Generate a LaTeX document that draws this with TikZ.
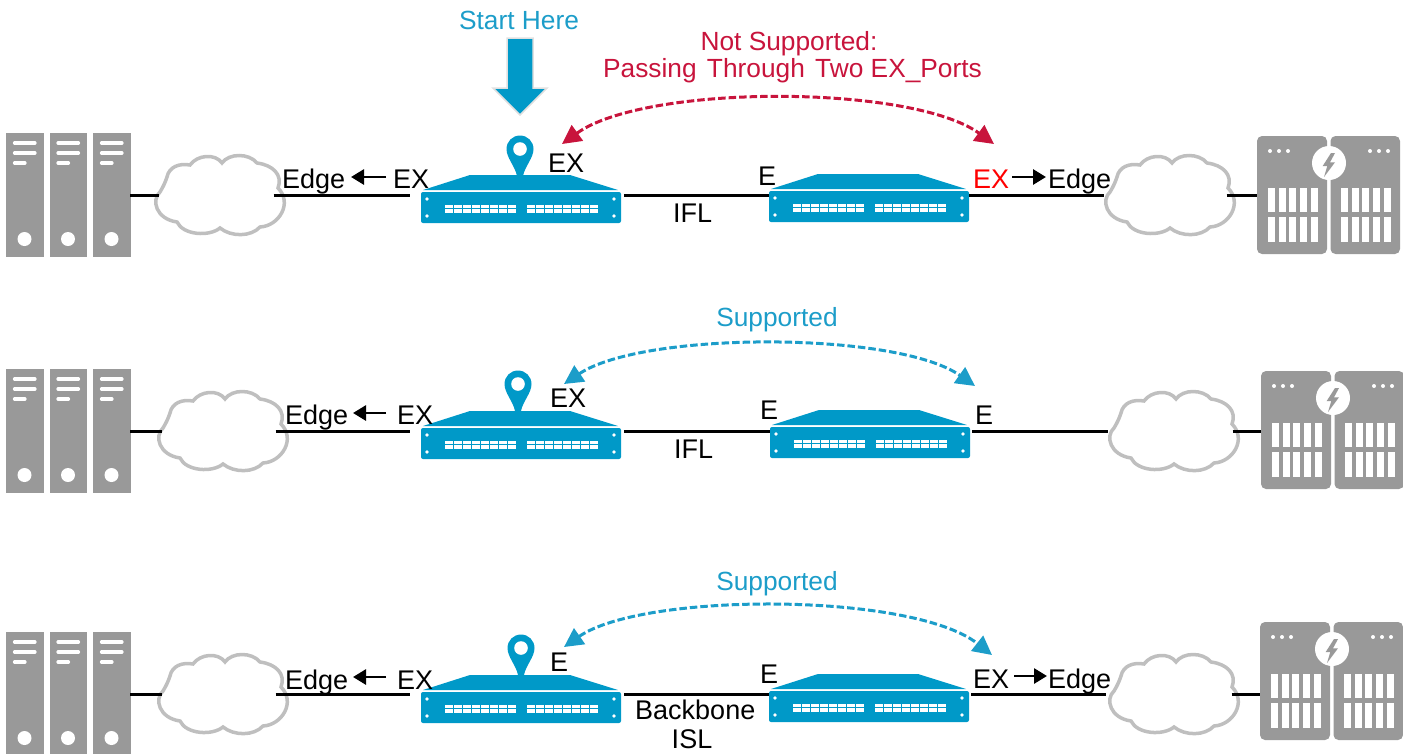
\documentclass[tikz,border=0pt]{standalone}
\usepackage{fontspec}
\setmainfont{Liberation Sans}
\usetikzlibrary{arrows.meta}
\definecolor{swblue}{HTML}{0099C8}
\definecolor{okblue}{HTML}{1C9DC9}
\definecolor{badred}{HTML}{C8143C}
\definecolor{devgray}{HTML}{999999}
\definecolor{cloudgray}{HTML}{BFBFBF}
\tikzset{
  anchorbox/.style={inner sep=0pt,outer sep=0pt,draw=none},
  lbl/.style={inner sep=0pt,anchor=base west,font=\fontsize{27}{30}\selectfont,text=black},
  lblc/.style={inner sep=0pt,anchor=base,font=\fontsize{26.3}{30}\selectfont},
  wire/.style={line width=3pt,black},
  portarrow/.style={line width=2.8pt,black,-{Triangle[length=13pt,width=15pt]}},
  spanbad/.style={line width=3pt,badred,dash pattern=on 7.5pt off 3pt,{Triangle[length=19pt,width=19pt]}-{Triangle[length=19pt,width=19pt]}},
  spanok/.style={line width=3pt,okblue,dash pattern=on 7.5pt off 3pt,{Triangle[length=19pt,width=19pt]}-{Triangle[length=19pt,width=19pt]}},
}
% name, center x, center y
\newcommand\CloudAt[3]{%
  \draw[cloudgray,line width=3.5pt,fill=white,shift={(#2,#3)}]
    (-61,-3) .. controls (-70,5) and (-65,24) .. (-44,27)
    .. controls (-38,40) and (-12,42) .. (-1,33)
    .. controls (10,42) and (30,42) .. (39,32)
    .. controls (58,31) and (72,8) .. (57,-7)
    .. controls (62,-20) and (52,-30) .. (36,-32)
    .. controls (28,-42) and (8,-42) .. (1,-32)
    .. controls (-6,-42) and (-24,-40) .. (-31,-30)
    .. controls (-42,-32) and (-52,-28) .. (-54,-18)
    .. controls (-56,-12) and (-58,-8) .. (-61,-3) -- cycle;
  \node[anchorbox,minimum width=129pt,minimum height=82pt] (#1) at (#2,#3) {};
}
% name, top y (left rack of three)
\newcommand\RackAt[2]{%
  \begin{scope}[shift={(0,#2)}]
    \foreach \xa/\xb in {6/43.5,49.5/87,93/130.5}{
      \fill[devgray] (\xa,0) rectangle (\xb,124);
      \draw[white,line width=3.2pt,line cap=round] (\xa+8.5,10) -- (\xa+29,10) (\xa+8.5,20) -- (\xa+29,20) (\xa+8.5,30) -- (\xa+19,30);
      \fill[white] (\xa+18.5,106) circle[radius=7pt];
    }
  \end{scope}
  \node[anchorbox,minimum width=124pt,minimum height=124pt] (#1) at (68,#2+62) {};
}
% name, left x, top y (right pair of chassis)
\newcommand\ChassisAt[3]{%
  \begin{scope}[shift={(#2,#3)}]
    \fill[devgray,rounded corners=5pt] (0,0) rectangle (70,118);
    \fill[devgray,rounded corners=5pt] (73.5,0) rectangle (143,118);
    \foreach \dx in {13,22,31,113,122,131}{\fill[white] (\dx,15) circle[radius=2pt];}
    \foreach \i in {0,...,4}{
      \fill[white] (10.7+10.8*\i,52) rectangle (17.7+10.8*\i,76);
      \fill[white] (10.7+10.8*\i,81) rectangle (17.7+10.8*\i,106);
      \fill[white] (83.7+10.8*\i,52) rectangle (90.7+10.8*\i,76);
      \fill[white] (83.7+10.8*\i,81) rectangle (90.7+10.8*\i,106);
    }
    \fill[white] (72,27) circle[radius=17pt];
    \fill[devgray] (74,17) -- (65.7,30) -- (70.3,30) -- (67,41) -- (78,26.3) -- (73,26.3) -- (78,17) -- cycle;
  \end{scope}
  \node[anchorbox,minimum width=143pt,minimum height=118pt] (#1) at (#2+71.5,#3+59) {};
}
% name, left x, body top y
\newcommand\SwitchAt[3]{%
  \begin{scope}[shift={(#2,#3)}]
    \fill[swblue] (2,-2) -- (49,-17) -- (149,-17) -- (197,-2) -- cycle;
    \fill[swblue,rounded corners=2pt] (0,0) rectangle (200,31);
    \foreach \dx in {6,193}{\foreach \dy in {7,24}{\fill[white] (\dx,\dy) circle[radius=1.8pt];}}
    \foreach \i in {0,...,7}{
      \fill[white] (24+9*\i,12.5) rectangle (31.6+9*\i,16.2);
      \fill[white] (24+9*\i,17.3) rectangle (31.6+9*\i,21);
      \fill[white] (106+9*\i,12.5) rectangle (113.6+9*\i,16.2);
      \fill[white] (106+9*\i,17.3) rectangle (113.6+9*\i,21);
    }
  \end{scope}
  \node[anchorbox,minimum width=200pt,minimum height=31pt] (#1) at (#2+100,#3+15.5) {};
}
% center x, center y of head
\newcommand\PinAt[2]{%
  \begin{scope}[shift={(#1,#2)}]
    \fill[swblue] (-3,27) .. controls (-5,17) and (-13.5,9) .. (-13.5,0)
      .. controls (-13.5,-7.5) and (-7.5,-13.5) .. (0,-13.5)
      .. controls (7.5,-13.5) and (13.5,-7.5) .. (13.5,0)
      .. controls (13.5,9) and (5,17) .. (3,27) -- cycle;
    \fill[white] (0,0) circle[radius=6.8pt];
  \end{scope}
}
\begin{document}
\begin{tikzpicture}[x=1pt,y=-1pt]
\useasboundingbox (0,0) rectangle (1403,753);
\clip (0,0) rectangle (1403,753);
% devices
\RackAt{ra}{133}\RackAt{rb}{369}\RackAt{rc}{632}
\ChassisAt{ca}{1257}{136}\ChassisAt{cb}{1261}{371}\ChassisAt{cc}{1260}{622}
\CloudAt{la}{221}{195}\CloudAt{lb}{224}{431}\CloudAt{lc}{224}{694}
\CloudAt{na}{1171}{195}\CloudAt{nb}{1175}{431}\CloudAt{nc}{1175}{694}
\SwitchAt{sa}{421}{192}\SwitchAt{sb}{421}{428}\SwitchAt{sc}{421}{692}
\SwitchAt{ta}{769}{191}\SwitchAt{tb}{770}{427}\SwitchAt{tc}{769}{691}
\PinAt{520}{149}\PinAt{518}{384}\PinAt{521}{648}
% connectors, row 1
\draw[wire,shorten >=-2pt] (ra.east) -- (la.west);
\draw[wire,shorten <=-12pt,shorten >=11pt] (la.east) -- (la.east -| sa.west);
\draw[wire,shorten <=3pt] (la.east -| sa.east) -- (la.east -| ta.west);
\draw[wire,shorten >=3pt] (la.east -| ta.east) -- (na.west);
\draw[wire,shorten <=-9pt] (na.east) -- (ca.west |- na.east);
% connectors, row 2
\draw[wire,shorten >=-2pt] (rb.east) -- (lb.west);
\draw[wire,shorten <=-13pt,shorten >=11pt] (lb.east) -- (lb.east -| sb.west);
\draw[wire,shorten <=3pt] (lb.east -| sb.east) -- (lb.east -| tb.west);
\draw[wire,shorten <=2pt,shorten >=3pt] (lb.east -| tb.east) -- (nb.west);
\draw[wire,shorten <=-7pt] (nb.east) -- (cb.west |- nb.east);
% connectors, row 3
\draw[wire,shorten >=-2pt] (rc.east) -- (lc.west);
\draw[wire,shorten <=-13pt,shorten >=11pt] (lc.east) -- (lc.east -| sc.west);
\draw[wire,shorten <=3pt] (lc.east -| sc.east) -- (lc.east -| tc.west);
\draw[wire,shorten <=2pt,shorten >=5pt] (lc.east -| tc.east) -- (nc.west);
\draw[wire,shorten <=-8pt] (nc.east) -- (cc.west |- nc.east);
% start arrow
\draw[swblue,fill=swblue,draw=black!12,line width=1.5pt,line join=miter]
  (507,38) -- (533,38) -- (533,88) -- (547,88) -- (520,115) -- (493,88) -- (507,88) -- cycle;
% labels
\node[lblc,text=okblue] (start) at (519,29) {Start Here};
\node[lblc,text=badred] (ns1) at (789,50) {Not Supported:};
\node[lblc,text=badred] (ns2) at (792.5,77.5) {Passing\hspace{3pt} Through\hspace{3pt} Two EX\_Ports};
\node[lblc,text=okblue] (sup2) at (777,326) {Supported};
\node[lblc,text=okblue] (sup3) at (777,590) {Supported};
% row 1 labels
\node[lbl] (ea1) at (282,188.5) {Edge};
\node[lbl] (xa1) at (393,188.5) {EX};
\node[lbl] (xa2) at (548,172) {EX};
\node[lbl] (ifa) at (673,222) {IFL};
\node[lbl] (ea2) at (758,185) {E};
\node[lbl,text=red] (xa3) at (973,188) {EX};
\node[lbl] (ea3) at (1048,188) {Edge};
% row 2 labels
\node[lbl] (eb1) at (285,424) {Edge};
\node[lbl] (xb1) at (397,424) {EX};
\node[lbl] (xb2) at (550,407) {EX};
\node[lbl] (ifb) at (674,458) {IFL};
\node[lbl] (eb2) at (760,419) {E};
\node[lbl] (eb3) at (975,424) {E};
% row 3 labels
\node[lbl] (ec1) at (285,689) {Edge};
\node[lbl] (xc1) at (397,689) {EX};
\node[lbl] (xc2) at (550,671) {E};
\node[lbl] (bb) at (635,719) {Backbone};
\node[lbl,anchor=base] (isl) at (692,748) {ISL};
\node[lbl] (ec2) at (760,683) {E};
\node[lbl] (xc3) at (973,688) {EX};
\node[lbl] (ec3) at (1048,688) {Edge};
% small arrows
\coordinate (pa1) at (386,177); \coordinate (qa1) at (351,177);
\coordinate (pa2) at (1012,177); \coordinate (qa2) at (1046,177);
\coordinate (pb1) at (386,413); \coordinate (qb1) at (353,413);
\coordinate (pc1) at (386,677); \coordinate (qc1) at (353,677);
\coordinate (pc2) at (1014,676); \coordinate (qc2) at (1047,676);
\draw[portarrow] (pa1) -- (qa1);
\draw[portarrow] (pa2) -- (qa2);
\draw[portarrow] (pb1) -- (qb1);
\draw[portarrow] (pc1) -- (qc1);
\draw[portarrow] (pc2) -- (qc2);
% spans
\coordinate (ua) at (562,144); \coordinate (va) at (994,144);
\coordinate (ub) at (564,384); \coordinate (vb) at (975,386);
\coordinate (uc) at (564,647); \coordinate (vc) at (992,655);
\draw[spanbad] (ua) .. controls (645,84) and (911,84) .. (va);
\draw[spanok] (ub) .. controls (643,331) and (897,331) .. (vb);
\draw[spanok] (uc) .. controls (643,592) and (912,592) .. (vc);
\end{tikzpicture}
\end{document}
